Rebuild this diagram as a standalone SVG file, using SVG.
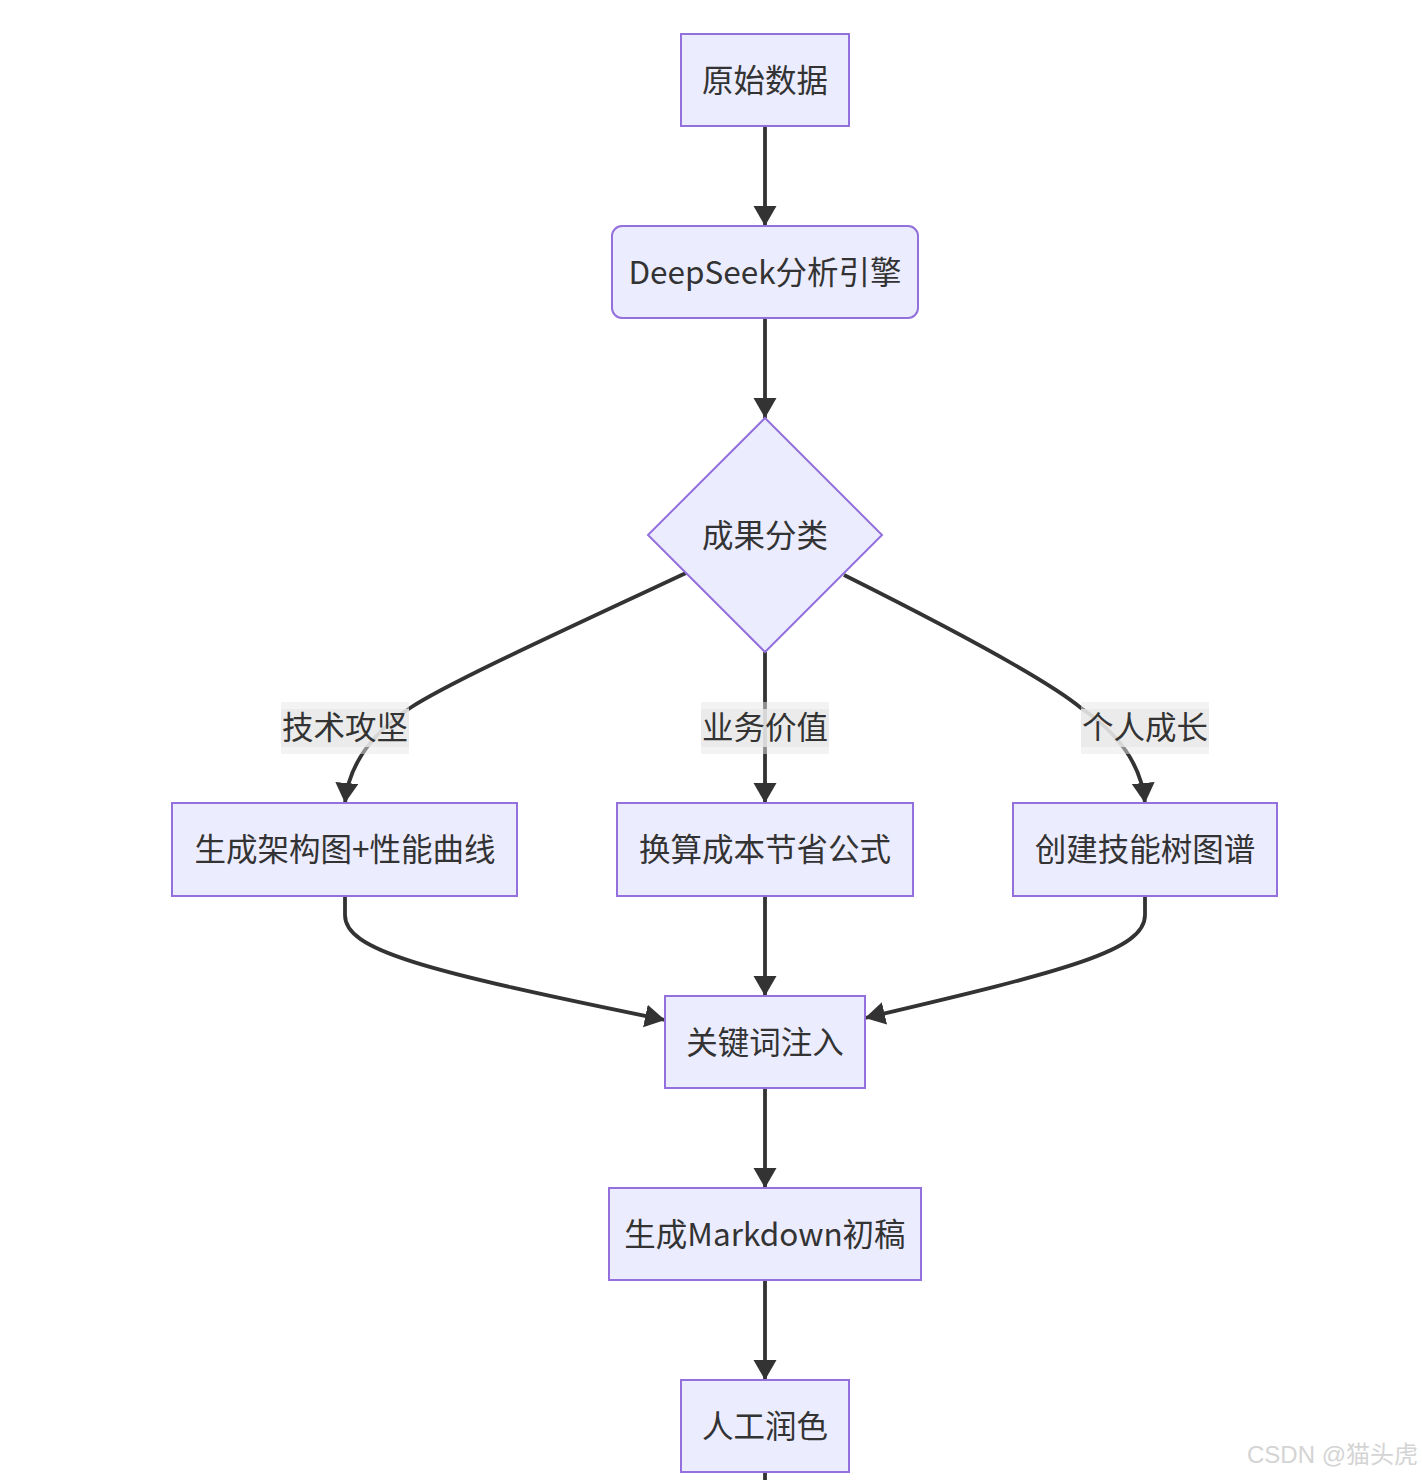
<svg xmlns="http://www.w3.org/2000/svg" width="1422" height="1480" viewBox="0 0 1422 1480">
<style>
.node rect,.node polygon{fill:#ECECFF;stroke:#9370DB;stroke-width:2}
.node text,.lbl text{font-family:"Noto Sans CJK SC","Noto Sans",sans-serif;font-size:31.5px;fill:#333333;text-anchor:middle;dominant-baseline:central}
.edge{fill:none;stroke:#333333;stroke-width:3.8}
.lbl .o{fill:#e8e8e8;opacity:0.5}
.lbl .i{fill:#e8e8e8;opacity:0.8}
</style>
<defs>
<marker id="ah" markerUnits="userSpaceOnUse" markerWidth="22" markerHeight="24" refX="20" refY="11.5" orient="auto" viewBox="0 0 22 24">
<path d="M0,0 L20,11.5 L0,23 z" fill="#333333"/>
</marker>
</defs>
<rect width="1422" height="1480" fill="#ffffff"/>
<g id="connectors">
<path class="edge" d="M765,126 V226" marker-end="url(#ah)"/>
<path class="edge" d="M765,318 V418" marker-end="url(#ah)"/>
<path class="edge" d="M686,573 C560,632 450,682 410,708 Q350,748 345,803" marker-end="url(#ah)"/>
<path class="edge" d="M765,652 V803" marker-end="url(#ah)"/>
<path class="edge" d="M844,575 C970,638 1050,682 1081,708 Q1140,748 1145,803" marker-end="url(#ah)"/>
<path class="edge" d="M345,896 V915 C345,950 420,970 665,1020" marker-end="url(#ah)"/>
<path class="edge" d="M765,896 V996" marker-end="url(#ah)"/>
<path class="edge" d="M1145,896 V915 C1145,950 1070,970 865,1018" marker-end="url(#ah)"/>
<path class="edge" d="M765,1088 V1188" marker-end="url(#ah)"/>
<path class="edge" d="M765,1280 V1380" marker-end="url(#ah)"/>
<path class="edge" d="M765,1472 V1482"/>
</g>
<g id="label-tech" class="lbl">
<rect class="o" x="281" y="702" width="128" height="52"/>
<rect class="i" x="281" y="709" width="128" height="38"/>
<text x="345" y="725">技术攻坚</text>
</g>
<g id="label-biz" class="lbl">
<rect class="o" x="701" y="702" width="128" height="52"/>
<rect class="i" x="701" y="709" width="128" height="38"/>
<text x="765" y="725">业务价值</text>
</g>
<g id="label-growth" class="lbl">
<rect class="o" x="1081" y="702" width="128" height="52"/>
<rect class="i" x="1081" y="709" width="128" height="38"/>
<text x="1145" y="725">个人成长</text>
</g>
<g id="n-raw" class="node">
<rect x="681" y="34" width="168" height="92"/>
<text x="765" y="78">原始数据</text>
</g>
<g id="n-deepseek" class="node">
<rect x="612" y="226" width="306" height="92" rx="10" ry="10"/>
<text x="765" y="270">DeepSeek分析引擎</text>
</g>
<g id="n-classify" class="node">
<polygon points="765,418 882,535 765,652 648,535"/>
<text x="765" y="533">成果分类</text>
</g>
<g id="n-arch" class="node">
<rect x="172" y="803" width="345" height="93"/>
<text x="345" y="847">生成架构图+性能曲线</text>
</g>
<g id="n-cost" class="node">
<rect x="617" y="803" width="296" height="93"/>
<text x="765" y="847">换算成本节省公式</text>
</g>
<g id="n-skill" class="node">
<rect x="1013" y="803" width="264" height="93"/>
<text x="1145" y="847">创建技能树图谱</text>
</g>
<g id="n-keyword" class="node">
<rect x="665" y="996" width="200" height="92"/>
<text x="765" y="1040">关键词注入</text>
</g>
<g id="n-markdown" class="node">
<rect x="609" y="1188" width="312" height="92"/>
<text x="765" y="1232">生成Markdown初稿</text>
</g>
<g id="n-polish" class="node">
<rect x="681" y="1380" width="168" height="92"/>
<text x="765" y="1424">人工润色</text>
</g>
<text x="1418" y="1463" font-family="'Liberation Sans','Noto Sans CJK SC',sans-serif" font-size="24" fill="#d4d4d4" text-anchor="end">CSDN @猫头虎</text>
</svg>
